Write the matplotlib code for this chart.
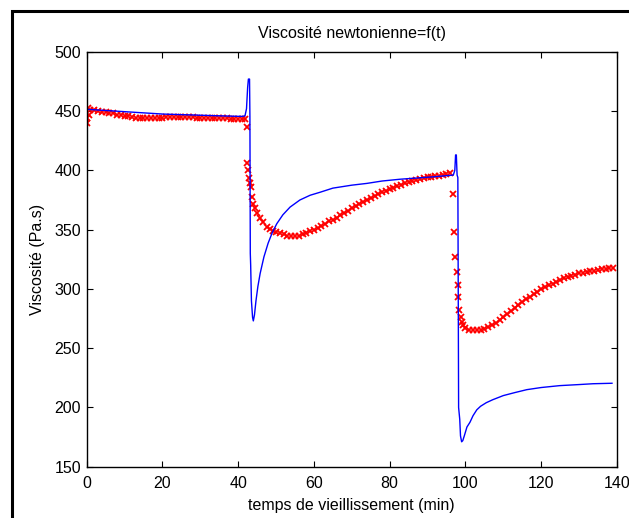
import matplotlib
matplotlib.use("Agg")
import matplotlib.pyplot as plt
from matplotlib.patches import Rectangle

plt.rcParams['font.family'] = ['Liberation Sans', 'DejaVu Sans']

# points mesurés (croix rouges)
t_red = [0, 0.2, 0.4, 0.6, 1, 2, 3, 4, 5, 6, 7, 8, 9, 10,
         11, 12, 13, 14, 15, 16, 17, 18, 19, 20,
         21, 22, 23, 24, 25, 26, 27, 28, 29, 30,
         31, 32, 33, 34, 35, 36, 37, 38, 39, 40, 41, 41.7,
         42.3, 42.3, 42.6, 42.8, 43.1, 43.4, 43.6, 44.0, 44.4, 45.0, 45.8, 46.5, 47.6, 48.5, 49.3,
         50, 51, 52, 53, 54, 55, 56, 57, 58, 59, 60,
         61, 62, 63, 64, 65, 66, 67, 68, 69, 70,
         71, 72, 73, 74, 75, 76, 77, 78, 79, 80,
         81, 82, 83, 84, 85, 86, 87, 88, 89, 90,
         91, 92, 93, 94, 95, 96,
         96.7, 97.0, 97.3, 97.8, 98.1, 98.1, 98.4, 98.7, 99.0, 99.4,
         100, 101, 102, 103, 104, 105, 106, 107, 108, 109,
         110, 111, 112, 113, 114, 115, 116, 117, 118, 119,
         120, 121, 122, 123, 124, 125, 126, 127, 128, 129,
         130, 131, 132, 133, 134, 135, 136, 137, 138, 139]
v_red = [444, 440, 453, 447, 451, 450.5, 450, 449.5, 449, 448.5, 448, 447, 446.5, 446,
         445.5, 445, 444.5, 444.5, 444, 444, 444, 444, 444.5, 444.5,
         445, 445, 445, 445, 445, 445, 445, 445, 444.5, 444.5,
         444.5, 444.5, 444.5, 444, 444, 444, 444, 443.5, 443.5, 443.5, 443, 443,
         436.6, 406, 400, 393.5, 389, 386, 377.5, 372, 368, 364, 360, 356.5, 352.5, 350.5, 349,
         348, 347, 346, 345, 344.5, 344.5, 345, 346, 347, 348.5, 350,
         351.5, 353, 355, 357, 358.5, 360, 362, 364, 366, 368,
         370, 371.5, 373.5, 375, 377, 378.5, 380, 381.5, 383, 384.5,
         385.5, 387, 388, 389, 390, 391, 392, 392.5, 393.5, 394,
         394.5, 395, 395.5, 396, 396.5, 397.5,
         380, 348, 326.5, 314.5, 303, 293.5, 282, 276, 272, 269.5,
         267, 265.5, 265, 265, 265.5, 266.5, 268, 269.5, 271.5, 273.5,
         276.5, 279, 281.5, 284, 286.5, 289, 291.5, 293.5, 295.5, 297.5,
         299.5, 301.5, 303, 304.5, 306, 307.5, 309, 310, 311, 312,
         313, 313.5, 314.5, 315, 315.5, 316, 316.5, 317, 317.5, 318]

# modèle (ligne bleue)
t_blue = [0, 5, 10, 15, 20, 25, 30, 35, 41, 41.8,
          42.2, 42.5, 42.7, 43.0, 43.1, 43.2, 43.3, 43.5, 43.8, 44.0,
          44.3, 44.7, 45.2, 45.8, 46.8, 47.9, 49.0, 50.2, 51.8, 53.7,
          56.3, 59.0, 61.6, 65, 70, 74, 78, 82.7, 87, 91.4, 95, 96.8,
          97.2, 97.4, 97.6, 97.8, 98.0, 98.1, 98.2, 98.5, 98.7, 99.0,
          99.3, 99.7, 100.4, 101.2, 102, 103, 104, 105.5, 107.2, 110,
          113, 116.2, 120, 124.9, 130, 133.7, 138.7]
v_blue = [451.5, 450.5, 449.5, 448.5, 447.5, 447, 446.5, 446, 445.5, 446,
          452, 470, 477, 477, 445, 330, 320, 290, 276, 273,
          278, 290, 302, 313, 327, 338.5, 347.5, 355, 362.5, 369,
          375, 379, 381.5, 385, 387.5, 389, 391, 392.5, 393.5, 394.5, 395.5, 396,
          400, 413, 413, 396, 394, 300, 200, 190, 176, 171,
          172, 176, 183.5, 187.5, 193, 198, 201, 204, 206.5, 210,
          212.5, 215, 216.8, 218.4, 219.3, 220, 220.4]

x_ticks = [0, 20, 40, 60, 80, 100, 120, 140]
y_ticks = [150, 200, 250, 300, 350, 400, 450, 500]

fig = plt.figure(figsize=(6.29, 5.18), dpi=100)
ax = fig.add_axes([0.1378, 0.099, 0.843, 0.801])

ax.plot(t_red, v_red, 'x', color='#ff0000', markersize=4.5, markeredgewidth=1.3)
ax.plot(t_blue, v_blue, '-', color='#0000ff', linewidth=1)

ax.set_xlim(0, 140)
ax.set_ylim(150, 500)
ax.set_xticks(x_ticks)
ax.set_yticks(y_ticks)
ax.tick_params(direction='in', top=True, right=True, length=4, width=0.8,
               labelsize=11.5)
ax.tick_params(axis='x', pad=7)
ax.tick_params(axis='y', pad=4)
for s in ax.spines.values():
    s.set_linewidth(1)

ax.set_title("Viscosité newtonienne=f(t)", fontsize=11.5, pad=10)
ax.set_xlabel("temps de vieillissement (min)", fontsize=11.5, labelpad=5)
ax.set_ylabel("Viscosité (Pa.s)", fontsize=11.5, labelpad=7)

# cadre noir autour de la figure (coupé à droite et en bas)
fig.add_artist(Rectangle((0.0186, -0.5), 2, 0.978 + 0.5, transform=fig.transFigure,
                         fill=False, edgecolor='black', linewidth=2.2, clip_on=False))

fig.savefig("out.png", dpi=100)
